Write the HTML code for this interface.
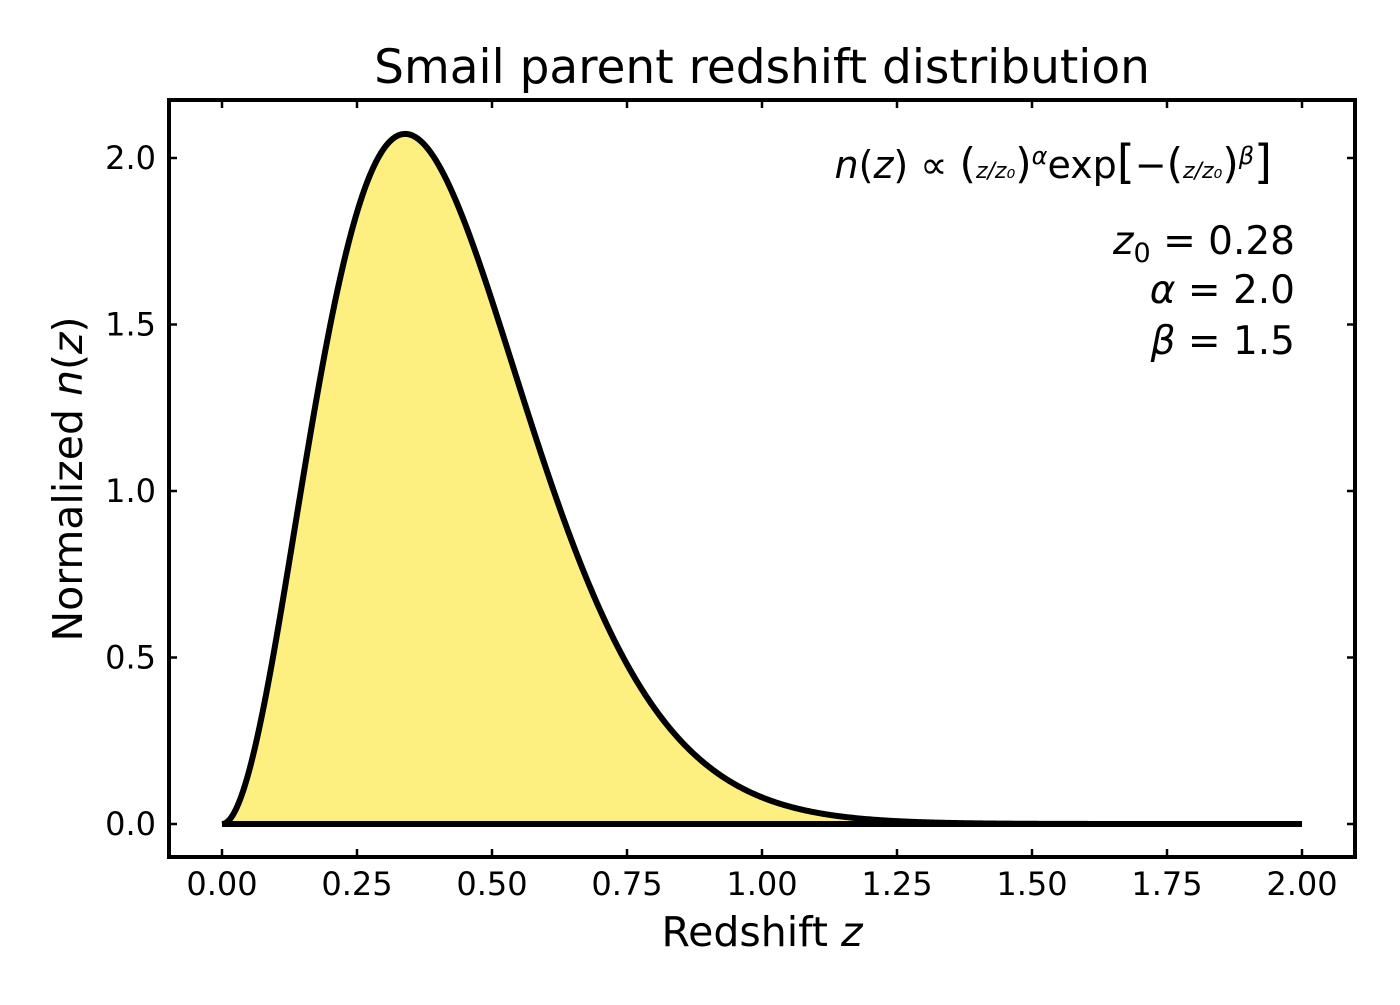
<!DOCTYPE html>
<html><head><meta charset="utf-8"><style>
body{margin:0;background:#fff;}
svg text{font-family:"DejaVu Sans","Liberation Sans",sans-serif;fill:#000;}
</style></head><body>
<svg id="s" width="1400" height="1000" xmlns="http://www.w3.org/2000/svg">
<rect width="1400" height="1000" fill="#fff"/>
<path id="fill" fill="#fdef80" stroke="none"/>
<path id="line" fill="none" stroke="#000" stroke-width="6" stroke-linejoin="round"/>
<line x1="222" y1="824" x2="1302" y2="824" stroke="#000" stroke-width="6"/>
<rect x="169" y="100" width="1186" height="757" fill="none" stroke="#000" stroke-width="4"/>
<g id="ticks" stroke="#000" stroke-width="2.5"></g>
<g id="labels" font-size="32"></g>
<text x="762" y="83" font-size="47" text-anchor="middle">Smail parent redshift distribution</text>
<text x="762" y="946" font-size="41" text-anchor="middle">Redshift <tspan font-style="italic">z</tspan></text>
<text transform="translate(82,479) rotate(-90)" font-size="41" text-anchor="middle">Normalized <tspan font-style="italic">n</tspan>(<tspan font-style="italic">z</tspan>)</text>
<text x="1272" y="178" font-size="38" text-anchor="end"><tspan font-style="italic">n</tspan>(<tspan font-style="italic">z</tspan>) ∝ <tspan font-size="42">(</tspan><tspan font-size="22" font-style="italic">z/z₀</tspan><tspan font-size="42">)</tspan><tspan font-size="24" dy="-14" font-style="italic">α</tspan><tspan dy="14">exp</tspan><tspan font-size="46">[</tspan>−<tspan font-size="42">(</tspan><tspan font-size="22" font-style="italic">z/z₀</tspan><tspan font-size="42">)</tspan><tspan font-size="24" dy="-14" font-style="italic">β</tspan><tspan font-size="46" dy="14">]</tspan></text>
<text x="1295" y="254" font-size="39" text-anchor="end"><tspan font-style="italic">z</tspan><tspan font-size="27" dy="8">0</tspan><tspan dy="-8"> = 0.28</tspan></text>
<text x="1295" y="303" font-size="39" text-anchor="end"><tspan font-style="italic">α</tspan> = 2.0</text>
<text x="1295" y="354" font-size="39" text-anchor="end"><tspan font-style="italic">β</tspan> = 1.5</text>
</svg>
<script>
var X=function(z){return 222+540*z},Y=function(v){return 824-333*v};
var N=Math.pow(0.28,3)/1.5;
var d="";for(var i=0;i<=800;i++){var z=2*i/800;var v=z*z*Math.exp(-Math.pow(z/0.28,1.5))/N;d+=(i?"L":"M")+X(z).toFixed(2)+" "+Y(v).toFixed(2);}
document.getElementById("line").setAttribute("d",d);
document.getElementById("fill").setAttribute("d",d+"L1302 824L222 824Z");
var t="",l="";
for(var k=0;k<=8;k++){var z=k*0.25,x=X(z);t+='<line x1="'+x+'" y1="857" x2="'+x+'" y2="849"/><line x1="'+x+'" y1="100" x2="'+x+'" y2="108"/>';l+='<text x="'+x+'" y="895" text-anchor="middle">'+z.toFixed(2)+'</text>';}
for(var k=0;k<=4;k++){var v=k*0.5,y=Y(v);t+='<line x1="169" y1="'+y+'" x2="177" y2="'+y+'"/><line x1="1355" y1="'+y+'" x2="1347" y2="'+y+'"/>';l+='<text x="156" y="'+(y+11)+'" text-anchor="end">'+v.toFixed(1)+'</text>';}
document.getElementById("ticks").innerHTML=t;document.getElementById("labels").innerHTML=l;
</script>
</body></html>
